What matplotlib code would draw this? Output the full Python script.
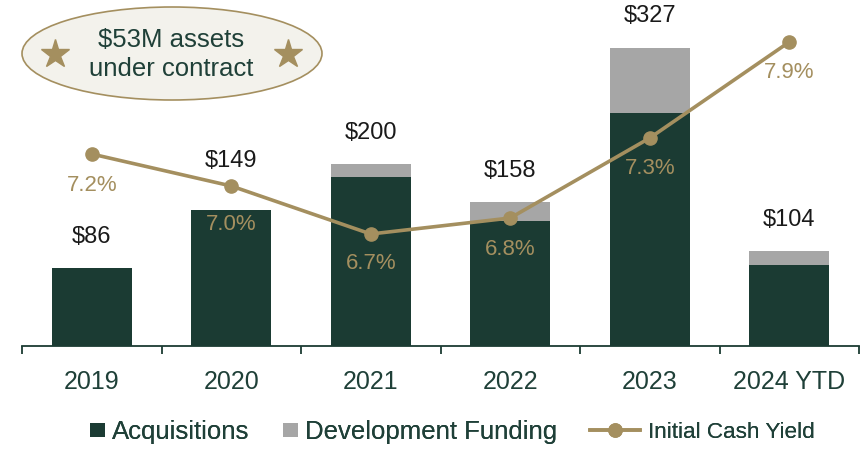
import matplotlib
matplotlib.use("Agg")
import matplotlib.pyplot as plt
from matplotlib.patches import Ellipse, Rectangle, Patch
from matplotlib.lines import Line2D
from matplotlib.legend_handler import HandlerBase
import numpy as np

plt.rcParams['font.family'] = ['Liberation Sans', 'DejaVu Sans']

categories = ["2019", "2020", "2021", "2022", "2023", "2024 YTD"]
acquisitions = [86, 149, 186, 137, 256, 89]
development = [0, 0, 14, 21, 71, 15]
totals = [86, 149, 200, 158, 327, 104]
total_labels = ["$86", "$149", "$200", "$158", "$327", "$104"]
cash_yield = [7.2, 7.0, 6.7, 6.8, 7.3, 7.9]
yield_labels = ["7.2%", "7.0%", "6.7%", "6.8%", "7.3%", "7.9%"]
legend_labels = ["Acquisitions", "Development Funding", "Initial Cash Yield"]

DARK = "#1b3b33"
GRAY = "#a6a6a6"
GOLD = "#a48f5f"
TEXT = "#1f4038"

W, H = 867, 450
fig = plt.figure(figsize=(W / 100, H / 100), dpi=100)
ax = fig.add_axes([22 / W, (H - 346) / H, 837 / W, 336 / H])
x = np.arange(len(categories))
bw = 0.573
ax.bar(x, acquisitions, bw, color=DARK, zorder=2)
ax.bar(x, development, bw, bottom=acquisitions, color=GRAY, zorder=2)
ax.set_xlim(-0.5, len(categories) - 0.5)
ax.set_ylim(0, 369)

for s in ["top", "right", "left"]:
    ax.spines[s].set_visible(False)
ax.spines["bottom"].set_color(DARK)
ax.spines["bottom"].set_linewidth(1.3)
ax.set_yticks([])
ax.set_xticks(x)
ax.set_xticklabels(categories, fontsize=18, color=TEXT)
ax.tick_params(axis="x", which="major", length=0, pad=17)
ax.set_xticks(np.arange(-0.5, len(categories), 1.0), minor=True)
ax.tick_params(axis="x", which="minor", length=5.5, width=1.3, color=DARK, direction="out")

off_tot = [31, 49, 31, 31, 32, 31]
for i, (t, lab) in enumerate(zip(totals, total_labels)):
    ax.annotate(lab, (x[i], t), xytext=(0, off_tot[i] * 0.72), textcoords="offset points",
                ha="center", va="center", fontsize=17, color="#1a1a1a")

ax2 = ax.twinx()
ax2.set_ylim(6.0, 8.1)
ax2.axis("off")
ax2.plot(x, cash_yield, color=GOLD, lw=2.6, marker="o", ms=9.5, zorder=3)
off_y = [31.5, 39, 30, 32, 31, 31]
for i, (v, lab) in enumerate(zip(cash_yield, yield_labels)):
    ax2.annotate(lab, (x[i], v), xytext=(0, -off_y[i] * 0.72), textcoords="offset points",
                 ha="center", va="center", fontsize=16, color=GOLD)

# callout ellipse
el = Ellipse((172 / W, 1 - 53.5 / H), 300 / W, 93 / H, transform=fig.transFigure,
             facecolor="#f3f2ec", edgecolor=GOLD, lw=1.2)
fig.add_artist(el)
for sx in (55, 288):
    fig.add_artist(Line2D([sx / W], [1 - 54 / H], marker="*", ms=21, color=GOLD,
                          transform=fig.transFigure, linestyle="none"))
fig.text(171 / W, 1 - 54.5 / H, "$53M assets\nunder contract", ha="center", va="center",
         fontsize=18.5, color=TEXT, linespacing=1.3)


class SquareHandler(HandlerBase):
    def create_artists(self, legend, orig_handle, xdescent, ydescent, width, height,
                       fontsize, trans):
        side = 0.58 * fontsize
        r = Rectangle((-xdescent + width - side, -ydescent + (height - side) / 2), side, side,
                      facecolor=orig_handle.get_facecolor(), edgecolor="none", transform=trans)
        return [r]


handles = [
    Patch(facecolor=DARK),
    Patch(facecolor=GRAY),
    Line2D([], [], marker="o", color=GOLD, lw=2.6, ms=9.5),
]
leg_x = [90, 283, 590]
leg_len = [0.58, 0.58, 2.22]
leg_fs = [18.5, 18.5, 16.2]
leg_pad = [0.28, 0.28, 0.36]
ly = 1 - 432 / H
for h, lab, lx, ll, fs, tp in zip(handles, legend_labels, leg_x, leg_len, leg_fs, leg_pad):
    lg = fig.legend([h], [lab], loc="center left", bbox_to_anchor=(lx / W, ly),
                    frameon=False, fontsize=fs, labelcolor=TEXT, handlelength=ll,
                    handletextpad=tp, borderpad=0, borderaxespad=0,
                    handler_map={Patch: SquareHandler()})
    fig.add_artist(lg)

fig.savefig("out.png", dpi=100)
